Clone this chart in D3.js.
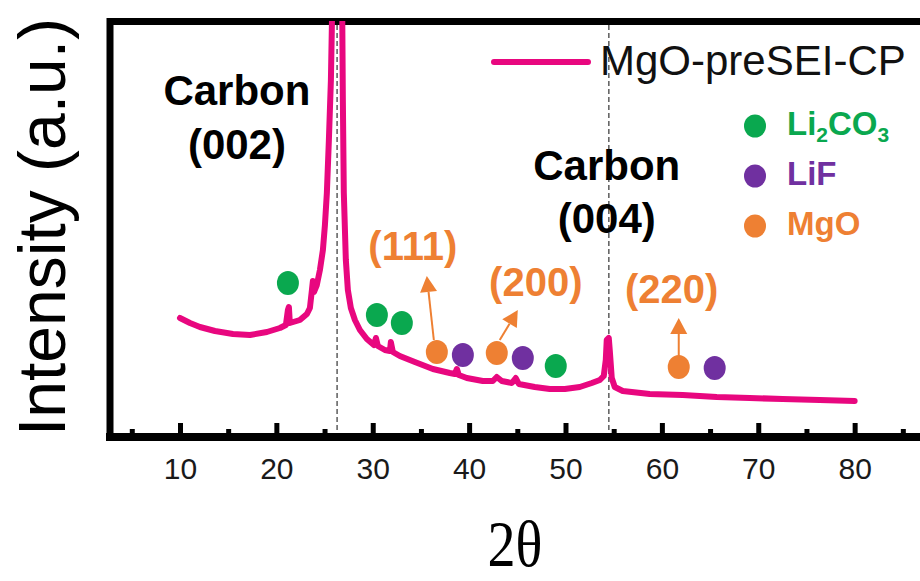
<!DOCTYPE html>
<html>
<head>
<meta charset="utf-8">
<script src="https://cdn.jsdelivr.net/npm/d3@7"></script>
<style>
  body { margin: 0; background: #fff; }
</style>
</head>
<body>
<div id="chart"></div>
<script>
// XRD pattern, MgO-preSEI-CP (2θ in degrees, intensity in arbitrary units)
const theta = [10.0, 11.04, 12.07, 13.63, 15.5, 17.26, 19.02, 20.37, 20.99, 21.2, 21.3, 21.4,
  22.44, 23.17, 23.48, 23.69, 23.79, 23.9, 24.2, 24.52, 24.83, 25.04, 25.24, 25.45, 25.66, 25.87,
  26.8, 26.9, 27.0, 27.21, 27.42, 27.73, 28.15, 28.67, 29.39, 30.12, 30.33, 30.53, 31.26, 31.78,
  31.88, 32.09, 32.81, 34.37, 36.24, 38.0, 38.52, 38.73, 38.93, 39.76, 41.42, 42.46, 42.87, 43.39,
  44.43, 44.84, 45.16, 46.81, 48.37, 49.93, 51.48, 52.73, 53.56, 53.97, 54.18, 54.28, 54.49, 54.59,
  54.8, 55.11, 55.94, 58.74, 62.16, 65.69, 69.11, 72.53, 76.37, 80.0];
const intensity = [119, 114, 110, 106, 103, 102, 105, 109, 112, 127, 130, 114,
  117, 123, 129, 147, 156, 145, 152, 167, 187, 212, 244, 297, 357, 470,
  470, 337, 244, 177, 147, 129, 117, 107, 98, 92, 99, 91, 87, 86,
  95, 85, 81, 75, 68, 64, 63, 68, 62, 59, 56, 56, 60, 56,
  54, 59, 53, 50, 48, 48, 50, 54, 57, 61, 77, 97, 99, 87,
  59, 50, 46, 43, 42, 40, 39, 38, 37, 36];

// phase markers
const li2co3Theta = [21.2, 30.43, 33.02, 48.99];
const li2co3Int = [154, 122, 114, 71];
const lifTheta = [39.35, 45.57, 65.48];
const lifInt = [82, 79, 69];
const mgoTheta = [36.65, 42.87, 61.75];
const mgoInt = [85, 84, 70];

// MgO reflection labels and arrows
const mgoLabels = ["(111)", "(200)", "(220)"];
const mgoLabelTheta = [34.16, 46.92, 61.02];
const mgoLabelInt = [177, 141, 134];
const arrowFromTheta = [36.34, 43.18, 61.75];
const arrowFromInt = [97, 97, 81];
const arrowToTheta = [35.61, 45.05, 61.75];
const arrowToInt = [161, 127, 119];

// carbon reflections
const carbonLines = [26.3, 54.5];
const carbonLabels = [["Carbon", "(002)"], ["Carbon", "(004)"]];
const carbonLabelTheta = [15.91, 54.28];
const carbonLabelInt = [[332, 278], [257, 204]];

const xTicks = [10, 20, 30, 40, 50, 60, 70, 80];
const xMinorTicks = [5, 15, 25, 35, 45, 55, 65, 75, 85];

const colGreen = "#0aa84f", colPurple = "#7030a0", colOrange = "#ee8033", colLine = "#e8077f";

const width = 920, height = 581;
const svg = d3.select("#chart").append("svg")
    .attr("width", width)
    .attr("height", height);

const x = d3.scaleLinear().domain([2.74, 87.3]).range([110, 925]);
const y = d3.scaleLinear().domain([0, 416]).range([437, 21]);

svg.append("clipPath").attr("id", "plotclip")
  .append("rect")
    .attr("x", 110).attr("y", 21)
    .attr("width", 815).attr("height", 416);

// dashed reference lines for carbon peaks
svg.selectAll(".cline")
  .data(carbonLines)
  .join("line")
    .attr("x1", d => x(d)).attr("x2", d => x(d))
    .attr("y1", 25).attr("y2", 433)
    .attr("stroke", "#333")
    .attr("stroke-width", 1.2)
    .attr("stroke-dasharray", "5,3");

// minor ticks
svg.append("g")
    .attr("transform", "translate(0,437)")
    .call(d3.axisBottom(x).tickValues(xMinorTicks).tickSize(-8).tickFormat(""))
    .call(g => g.select(".domain").remove())
    .call(g => g.selectAll("line").attr("stroke", "#000").attr("stroke-width", 5));

// major ticks + labels
svg.append("g")
    .attr("transform", "translate(0,437)")
    .call(d3.axisBottom(x).tickValues(xTicks).tickSize(-14).tickPadding(21).tickFormat(d3.format("d")))
    .call(g => g.select(".domain").remove())
    .call(g => g.selectAll("line").attr("stroke", "#000").attr("stroke-width", 5))
    .call(g => g.selectAll("text")
      .attr("fill", "#1a1a1a")
      .style("font-family", "'Liberation Sans', Arial, sans-serif")
      .style("font-size", "30px"));

// frame: bottom, left, top
svg.append("line").attr("x1", 106).attr("x2", 920).attr("y1", 437).attr("y2", 437)
    .attr("stroke", "#000").attr("stroke-width", 8);
svg.append("line").attr("x1", 110).attr("x2", 110).attr("y1", 18).attr("y2", 441)
    .attr("stroke", "#000").attr("stroke-width", 7);
svg.append("line").attr("x1", 107).attr("x2", 920).attr("y1", 21.5).attr("y2", 21.5)
    .attr("stroke", "#000").attr("stroke-width", 7);

// XRD curve
const lineGen = d3.line()
    .x((d, i) => x(theta[i]))
    .y(d => y(d));
svg.append("path")
    .datum(intensity)
    .attr("clip-path", "url(#plotclip)")
    .attr("fill", "none")
    .attr("stroke", colLine)
    .attr("stroke-width", 6)
    .attr("stroke-linejoin", "round")
    .attr("stroke-linecap", "round")
    .attr("d", lineGen);

// arrows from MgO markers to labels
mgoLabels.forEach(function(lbl, i) {
  const x0 = x(arrowFromTheta[i]), y0 = y(arrowFromInt[i]);
  const x1 = x(arrowToTheta[i]), y1 = y(arrowToInt[i]);
  const len = Math.hypot(x1 - x0, y1 - y0);
  const ux = (x1 - x0) / len, uy = (y1 - y0) / len;
  const hl = 16, hw = 8.5;
  const bx = x1 - ux * hl, by = y1 - uy * hl;
  svg.append("line")
      .attr("x1", x0).attr("y1", y0).attr("x2", bx).attr("y2", by)
      .attr("stroke", colOrange).attr("stroke-width", 2);
  svg.append("path")
      .attr("d", `M${x1},${y1}L${bx - uy * hw},${by + ux * hw}L${bx + uy * hw},${by - ux * hw}Z`)
      .attr("fill", colOrange);
  svg.append("text")
      .attr("x", x(mgoLabelTheta[i]))
      .attr("y", y(mgoLabelInt[i]))
      .attr("text-anchor", "middle")
      .attr("fill", colOrange)
      .style("font-family", "'Liberation Sans', Arial, sans-serif")
      .style("font-weight", "bold")
      .style("font-size", "40px")
      .text(lbl);
});

// phase markers
function markers(th, it, col) {
  svg.append("g").selectAll("ellipse")
    .data(th)
    .join("ellipse")
      .attr("cx", d => x(d))
      .attr("cy", (d, i) => y(it[i]))
      .attr("rx", 11).attr("ry", 12)
      .attr("fill", col);
}
markers(li2co3Theta, li2co3Int, colGreen);
markers(lifTheta, lifInt, colPurple);
markers(mgoTheta, mgoInt, colOrange);

// carbon labels
carbonLabels.forEach(function(lines, i) {
  lines.forEach(function(t, j) {
    svg.append("text")
        .attr("x", x(carbonLabelTheta[i]))
        .attr("y", y(carbonLabelInt[i][j]))
        .attr("text-anchor", "middle")
        .attr("fill", "#000")
        .style("font-family", "'Liberation Sans', Arial, sans-serif")
        .style("font-weight", "bold")
        .style("font-size", "42px")
        .text(t);
  });
});

// legend
svg.append("line").attr("x1", 494).attr("x2", 588).attr("y1", 62).attr("y2", 62)
    .attr("stroke", colLine).attr("stroke-width", 6).attr("stroke-linecap", "round");
svg.append("text").attr("x", 600).attr("y", 75)
    .attr("fill", "#111")
    .style("font-family", "'Liberation Sans', Arial, sans-serif")
    .style("font-size", "42px")
    .text("MgO-preSEI-CP");

const legendItems = [
  {col: colGreen, y: 135, parts: [["Li", 0], ["2", 1], ["CO", 0], ["3", 1]]},
  {col: colPurple, y: 185, parts: [["LiF", 0]]},
  {col: colOrange, y: 235, parts: [["MgO", 0]]}
];
legendItems.forEach(function(it) {
  svg.append("ellipse").attr("cx", 755).attr("cy", it.y - 9)
      .attr("rx", 11).attr("ry", 11.5).attr("fill", it.col);
  const t = svg.append("text").attr("x", 787).attr("y", it.y)
      .attr("fill", it.col)
      .style("font-family", "'Liberation Sans', Arial, sans-serif")
      .style("font-weight", "bold")
      .style("font-size", "33px");
  let sub = false;
  it.parts.forEach(function(p) {
    const s = t.append("tspan").text(p[0]);
    if (p[1] && !sub) { s.attr("dy", 7).style("font-size", "21px"); sub = true; }
    else if (!p[1] && sub) { s.attr("dy", -7); sub = false; }
  });
});

// axis titles
svg.append("text")
    .attr("transform", "translate(65,227) rotate(-90)")
    .attr("text-anchor", "middle")
    .attr("fill", "#000")
    .style("font-family", "'Liberation Sans', Arial, sans-serif")
    .style("font-size", "66px")
    .text("Intensity (a.u.)");

svg.append("text")
    .attr("transform", "translate(515,566) scale(0.85,1)")
    .attr("text-anchor", "middle")
    .attr("fill", "#000")
    .style("font-family", "'Liberation Serif', 'Times New Roman', serif")
    .style("font-size", "66px")
    .text("2θ");
</script>
</body>
</html>
